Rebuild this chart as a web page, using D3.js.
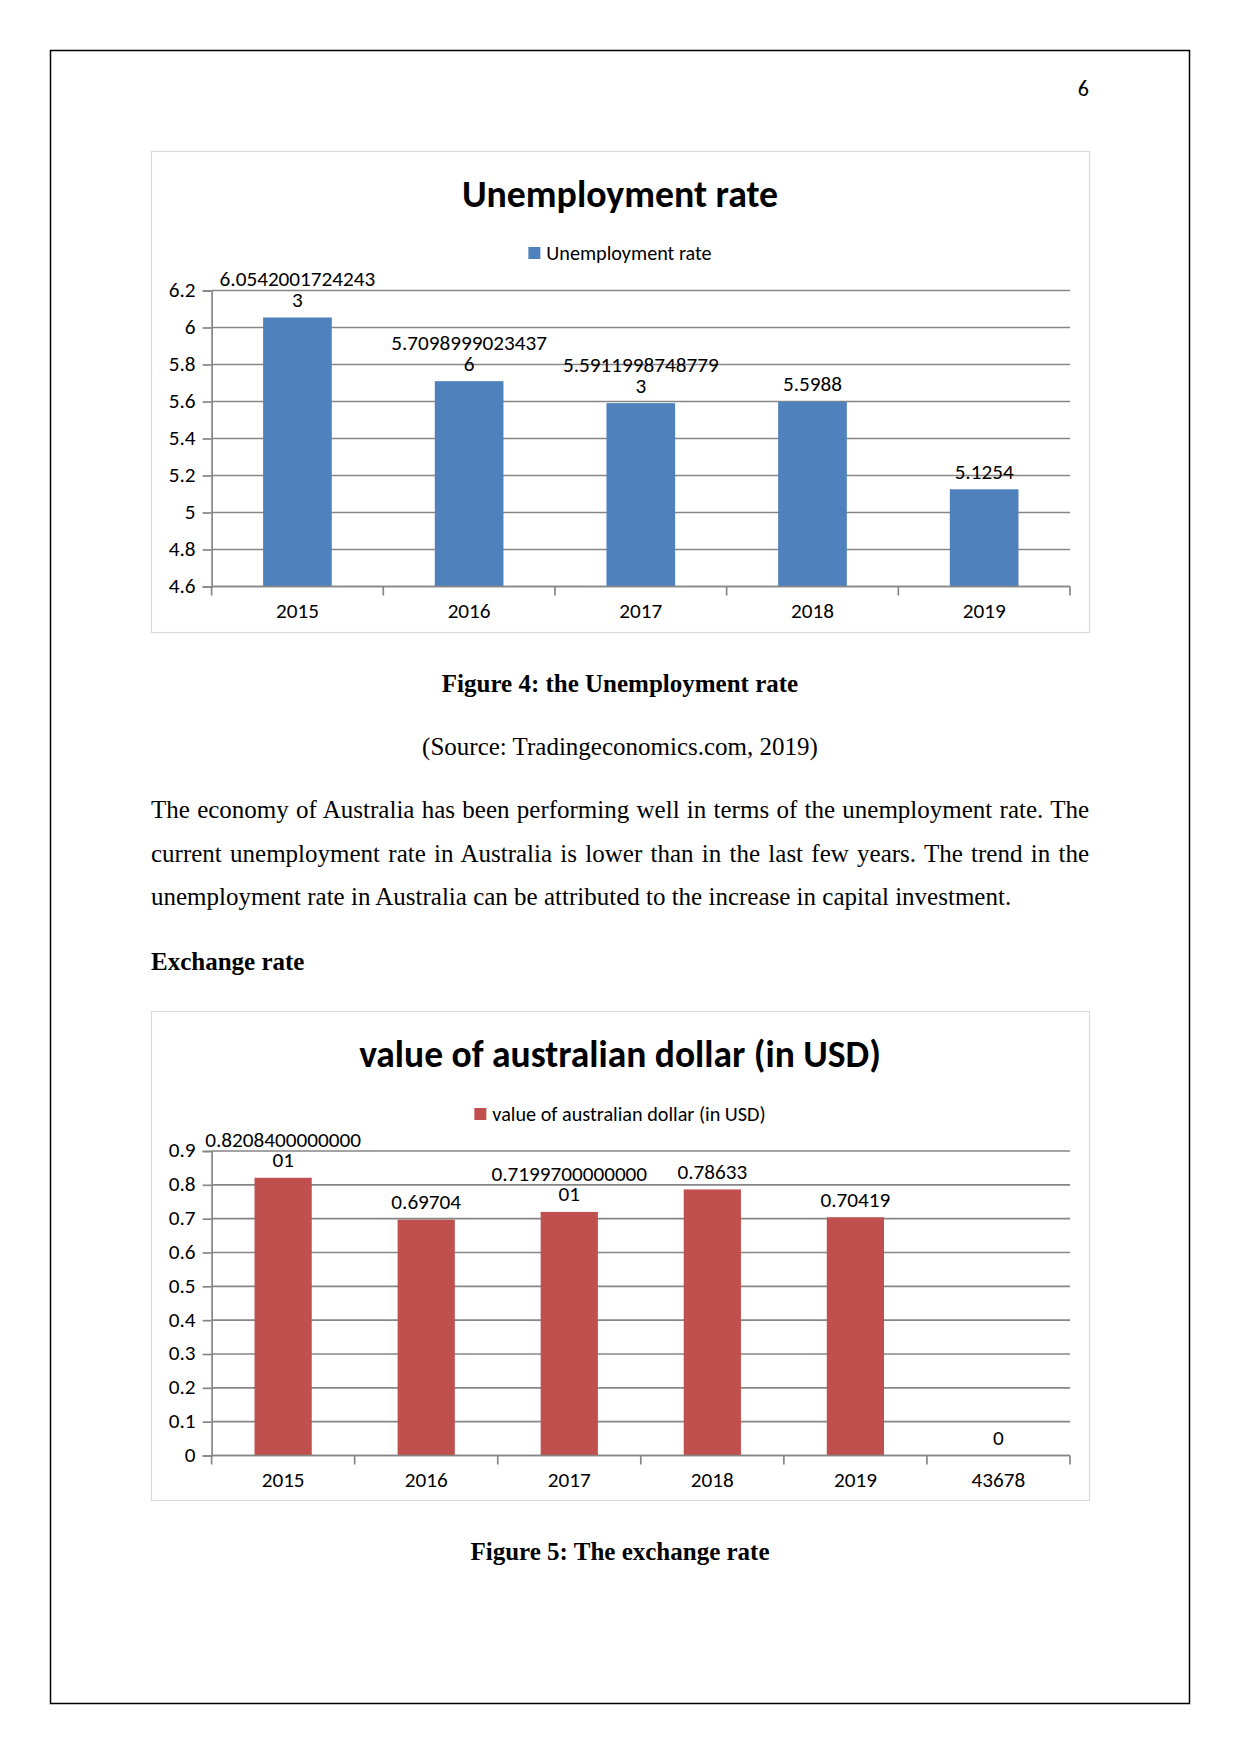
<!DOCTYPE html>
<html><head><meta charset="utf-8">
<script src="https://cdn.jsdelivr.net/npm/d3@7"></script>
<style>
html,body{margin:0;padding:0;background:#fff;}
#page{position:relative;width:1241px;height:1754px;overflow:hidden;}
svg{position:absolute;left:0;top:0;}
.line{position:absolute;left:151px;width:938px;font-family:"Liberation Serif","Times New Roman",serif;font-size:25px;color:#000;white-space:nowrap;}
.just{text-align:justify;text-align-last:justify;white-space:normal;}
</style></head>
<body><div id="page"></div>
<script>
// ---------- data ----------
const unempCategories = ["2015","2016","2017","2018","2019"];
const unempValues = [6.05420017242433, 5.70989990234376, 5.59119987487793, 5.5988, 5.1254];
const unempTicks = [4.6,4.8,5,5.2,5.4,5.6,5.8,6,6.2];
const unempTickLabels = ["4.6","4.8","5","5.2","5.4","5.6","5.8","6","6.2"];
const unempTitle = "Unemployment rate";

const audCategories = ["2015","2016","2017","2018","2019","43678"];
const audValues = [0.820840000000001, 0.69704, 0.719970000000001, 0.78633, 0.70419, 0];
const audTicks = [0,0.1,0.2,0.3,0.4,0.5,0.6,0.7,0.8,0.9];
const audTickLabels = ["0","0.1","0.2","0.3","0.4","0.5","0.6","0.7","0.8","0.9"];
const audTitle = "value of australian dollar (in USD)";

const bodyLines = [
  "The economy of Australia has been performing well in terms of the unemployment rate. The",
  "current unemployment rate in Australia is lower than in the last few years. The trend in the",
  "unemployment rate in Australia can be attributed to the increase in capital investment."
];

// ---------- page ----------
const page = d3.select("#page");
const svg = page.append("svg").attr("width",1241).attr("height",1754);
svg.append("rect").attr("x",50.5).attr("y",50.5).attr("width",1139).attr("height",1653)
  .attr("fill","none").attr("stroke","#000").attr("stroke-width",1.5);
svg.append("text").attr("x",1089).attr("y",96).attr("text-anchor","end")
  .attr("font-family","Carlito, Lato, sans-serif").attr("font-size",22).text("6");

const sans = "Carlito, Lato, sans-serif";
const numSize = 21.2;
const txtSize = 20.2;

function drawChart(opt){
  const g = svg.append("g");
  g.append("rect").attr("x",opt.box[0]+0.5).attr("y",opt.box[1]+0.5)
    .attr("width",opt.box[2]-opt.box[0]).attr("height",opt.box[3]-opt.box[1])
    .attr("fill","#fff").attr("stroke","#d9d9d9").attr("stroke-width",1.2);
  g.append("text").attr("x",620).attr("y",opt.titleY).attr("text-anchor","middle")
    .attr("font-family",sans).attr("font-weight","bold").attr("font-size",opt.titleSize)
    .attr("fill","#000").text(opt.title);
  // legend
  const lg = g.append("g");
  const lt = lg.append("text").attr("y",opt.legendY).attr("font-family",sans)
    .attr("font-size",txtSize).attr("fill","#000").text(opt.title);
  const tw = lt.node().getComputedTextLength();
  const total = 12 + 6 + tw;
  const lx = 620 - total/2;
  lt.attr("x", lx+18);
  lg.append("rect").attr("x",lx).attr("y",opt.legendY-13).attr("width",12).attr("height",12).attr("fill",opt.color);

  const x = d3.scaleBand().domain(opt.categories).range([opt.x0,opt.x1]).paddingInner(0).paddingOuter(0);
  const y = d3.scaleLinear().domain(opt.domain).range([opt.yBot,opt.yTop]);

  // gridlines
  g.append("g").selectAll("line").data(opt.ticks).join("line")
    .attr("x1",opt.x0).attr("x2",opt.x1).attr("y1",d=>y(d)).attr("y2",d=>y(d))
    .attr("stroke","#868686").attr("stroke-width",1.7);

  // bars
  const bw = x.bandwidth()/2.5;
  g.append("g").selectAll("rect").data(opt.values).join("rect")
    .attr("x",(d,i)=>x(opt.categories[i])+x.bandwidth()/2-bw/2)
    .attr("y",d=>y(Math.max(d,opt.domain[0])))
    .attr("width",bw)
    .attr("height",d=>opt.yBot-y(Math.max(d,opt.domain[0])))
    .attr("fill",opt.color);

  // y axis
  const ya = d3.axisLeft(y).tickValues(opt.ticks).tickSize(9).tickPadding(7)
    .tickFormat((d,i)=>opt.tickLabels[i]);
  const yg = g.append("g").attr("transform",`translate(${opt.x0},0)`).call(ya);
  yg.select(".domain").attr("stroke","#868686").attr("stroke-width",1.7);
  yg.selectAll(".tick line").attr("stroke","#868686").attr("stroke-width",1.7);
  yg.selectAll(".tick text").attr("font-family",sans).attr("font-size",numSize).attr("fill","#000")
    .attr("dy","0.28em");

  // x axis
  const xa = d3.axisBottom(x).tickSize(0).tickPadding(opt.xLabelPad);
  const xg = g.append("g").attr("transform",`translate(0,${opt.yBot})`).call(xa);
  xg.select(".domain").remove();
  xg.selectAll(".tick text").attr("font-family",sans).attr("font-size",numSize).attr("fill","#000");
  g.append("line").attr("x1",opt.x0).attr("x2",opt.x1).attr("y1",opt.yBot).attr("y2",opt.yBot)
    .attr("stroke","#868686").attr("stroke-width",1.7);
  const bounds = opt.categories.map(c=>x(c)).concat([opt.x1]);
  g.append("g").selectAll("line").data(bounds).join("line")
    .attr("x1",d=>d).attr("x2",d=>d).attr("y1",opt.yBot).attr("y2",opt.yBot+9)
    .attr("stroke","#868686").attr("stroke-width",1.7);

  // data labels
  const dl = g.append("g").attr("font-family",sans).attr("font-size",numSize).attr("fill","#000").attr("text-anchor","middle");
  opt.values.forEach((v,i)=>{
    const s = String(v);
    const parts = [];
    for(let k=0;k<s.length;k+=15) parts.push(s.slice(k,k+15));
    const cx = x(opt.categories[i])+x.bandwidth()/2;
    const top = y(Math.max(v,opt.domain[0]));
    const n = parts.length;
    parts.forEach((p,j)=>{
      dl.append("text").attr("x",cx).attr("y",top-10.5-(n-1-j)*20.5).text(p);
    });
  });
}

drawChart({box:[151,151,1089,632], title:unempTitle, titleY:207, titleSize:37.8, legendY:260,
  color:"#4f81bd", categories:unempCategories, values:unempValues, ticks:unempTicks, tickLabels:unempTickLabels,
  domain:[4.6,6.2], x0:211.6, x1:1070, yTop:290.5, yBot:586.5, xLabelPad:16});

drawChart({box:[151,1011,1089,1500], title:audTitle, titleY:1067, titleSize:37.5, legendY:1121,
  color:"#c0504d", categories:audCategories, values:audValues, ticks:audTicks, tickLabels:audTickLabels,
  domain:[0,0.9], x0:211.6, x1:1070, yTop:1151, yBot:1455.5, xLabelPad:16});

// ---------- document text ----------
function addLine(text, top, opts){
  const d = page.append("div").attr("class","line"+(opts.just?" just":"")).style("top",top+"px")
    .style("text-align",opts.align||null).style("font-weight",opts.bold?"bold":null).text(text);
  return d;
}
const off = -20.3;
addLine("Figure 4: the Unemployment rate", 690.7+off, {align:"center",bold:true});
addLine("(Source: Tradingeconomics.com, 2019)", 753+off, {align:"center"});
addLine(bodyLines[0], 816.7+off, {just:true});
addLine(bodyLines[1], 860+off, {just:true});
addLine(bodyLines[2], 903.3+off, {});
addLine("Exchange rate", 968+off, {bold:true});
addLine("Figure 5: The exchange rate", 1560+off-2, {align:"center",bold:true});
</script></body></html>
